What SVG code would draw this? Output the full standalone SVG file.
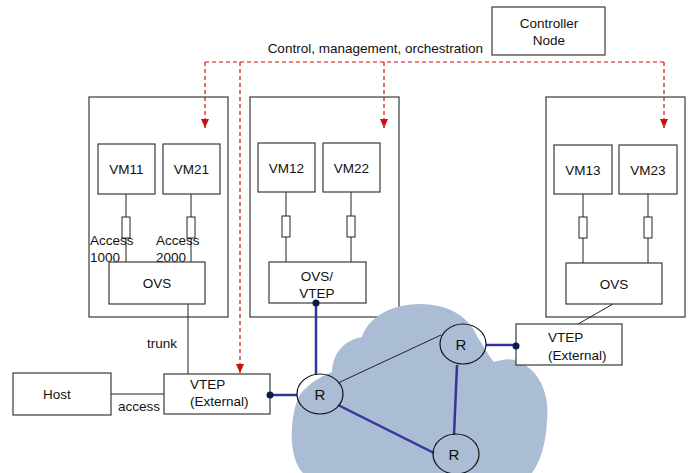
<svg xmlns="http://www.w3.org/2000/svg" width="693" height="473" viewBox="0 0 693 473">
<style>
.box{fill:#fff;stroke:#3a3a3a;stroke-width:1.2}
.host{fill:none;stroke:#3a3a3a;stroke-width:1.2}
.t{font-family:"Liberation Sans",Arial,sans-serif;font-size:13.5px;fill:#111}
.c{text-anchor:middle}
.rl{font-size:15px}
.wire{stroke:#222;stroke-width:1;fill:none}
.blue{stroke:#33339a;stroke-width:2.5;fill:none}
.ctl{stroke:#cc1111;stroke-width:1.2;stroke-dasharray:4 3;fill:none}
.r{fill:none;stroke:#111;stroke-width:1.2}
.dot{fill:#0b1d45}
.res{fill:#fff;stroke:#222;stroke-width:1}
</style>
<defs>
<marker id="ah" markerWidth="9" markerHeight="8" refX="9" refY="4" orient="auto" markerUnits="userSpaceOnUse" viewBox="0 0 9 8">
<path d="M0,0 L9,4 L0,8 Z" fill="#cc1111"/>
</marker>
</defs>

<g id="controller">
<rect class="box" x="492" y="7" width="113" height="48"/>
<text class="t c" x="549" y="28">Controller</text>
<text class="t c" x="549" y="45">Node</text>
</g>
<text class="t" x="483" y="53" text-anchor="end">Control, management, orchestration</text>

<g id="host1">
<rect class="host" x="89" y="97" width="139" height="220"/>
</g>
<g id="host2">
<rect class="host" x="250" y="97" width="149" height="220"/>
</g>
<g id="host3">
<rect class="host" x="546" y="97" width="139" height="220"/>
</g>

<g id="cloud">
<path fill="#abbcd5" d="M 303 473 C 290 460 288 425 298 398 C 305 385 320 377 332 372 C 333 352 345 340 362 337 C 368 318 390 304 420 304 C 450 304 470 318 478 338 C 485 348 490 358 494 362 C 500 360 508 358 515 360 C 538 368 550 392 547 420 C 546 445 540 462 532 473 Z"/>
</g>

<g id="connectors">
<path class="ctl" d="M205,62 H664"/>
<path class="ctl" d="M205,62 V128" marker-end="url(#ah)"/>
<path class="ctl" d="M384,62 V128" marker-end="url(#ah)"/>
<path class="ctl" d="M664,62 V128" marker-end="url(#ah)"/>
<path class="ctl" d="M240,62 V373" marker-end="url(#ah)"/>
<path class="wire" d="M126,194 V262 M191,194 V262"/>
<path class="wire" d="M286,192 V262 M351,192 V262"/>
<path class="wire" d="M583,194 V263 M648,194 V263"/>
<path class="wire" d="M188,304 V374"/>
<path class="wire" d="M111,394 H164"/>
<path class="wire" d="M613,304 L578,324"/>
<path class="wire" d="M338,383 L441,335"/>
<path class="blue" d="M316,303 V375"/>
<path class="blue" d="M270,395 H297"/>
<path class="blue" d="M486,345 H516"/>
<path class="blue" d="M338,405 L434,453"/>
<path class="blue" d="M457,365 L454,435"/>
</g>

<g id="resistors">
<rect class="res" x="122" y="217" width="8" height="21"/>
<rect class="res" x="187" y="217" width="8" height="21"/>
<rect class="res" x="282" y="216" width="8" height="21"/>
<rect class="res" x="347" y="216" width="8" height="21"/>
<rect class="res" x="579" y="217" width="8" height="21"/>
<rect class="res" x="644" y="217" width="8" height="21"/>
</g>

<g id="vm11"><rect class="box" x="98" y="144" width="57" height="50"/><text class="t c" x="126.5" y="174">VM11</text></g>
<g id="vm21"><rect class="box" x="163" y="144" width="57" height="50"/><text class="t c" x="191.5" y="174">VM21</text></g>
<g id="vm12"><rect class="box" x="258" y="143" width="57" height="49"/><text class="t c" x="286.5" y="173">VM12</text></g>
<g id="vm22"><rect class="box" x="323" y="143" width="57" height="49"/><text class="t c" x="351.5" y="173">VM22</text></g>
<g id="vm13"><rect class="box" x="554" y="145" width="58" height="49"/><text class="t c" x="583" y="175">VM13</text></g>
<g id="vm23"><rect class="box" x="619" y="145" width="58" height="49"/><text class="t c" x="648" y="175">VM23</text></g>

<g id="labels-access">
<text class="t" x="90" y="245">Access</text>
<text class="t" x="90" y="262">1000</text>
<text class="t" x="156" y="245">Access</text>
<text class="t" x="156" y="262">2000</text>
</g>

<g id="ovs1"><rect class="box" x="109" y="262" width="96" height="42"/><text class="t c" x="157" y="288">OVS</text></g>
<g id="ovsvtep"><rect class="box" x="269" y="262" width="97" height="41"/><text class="t c" x="317" y="281">OVS/</text><text class="t c" x="317" y="298">VTEP</text></g>
<g id="ovs3"><rect class="box" x="566" y="263" width="96" height="41"/><text class="t c" x="614" y="289">OVS</text></g>

<text class="t" x="147" y="348">trunk</text>
<text class="t" x="118" y="411">access</text>

<g id="hostnode"><rect class="box" x="13" y="373" width="98" height="42"/><text class="t c" x="57" y="399">Host</text></g>
<g id="vtep-left"><rect class="box" x="164" y="374" width="106" height="40"/><text class="t" x="190" y="389">VTEP</text><text class="t" x="190" y="406">(External)</text></g>
<g id="vtep-right"><rect class="box" x="516" y="324" width="106" height="41"/><text class="t" x="548" y="342">VTEP</text><text class="t" x="548" y="360">(External)</text></g>

<g id="r1"><ellipse class="r" cx="320" cy="394" rx="23" ry="20"/><text class="t c rl" x="320" y="400">R</text></g>
<g id="r2"><ellipse class="r" cx="463" cy="344" rx="23" ry="20"/><text class="t c rl" x="461" y="350">R</text></g>
<g id="r3"><ellipse class="r" cx="456" cy="454" rx="23" ry="20"/><text class="t c rl" x="454" y="460">R</text></g>

<g id="dots">
<circle class="dot" cx="316" cy="303" r="3.5"/>
<circle class="dot" cx="270" cy="395" r="3.5"/>
<circle class="dot" cx="516" cy="346" r="3.5"/>
</g>
</svg>
